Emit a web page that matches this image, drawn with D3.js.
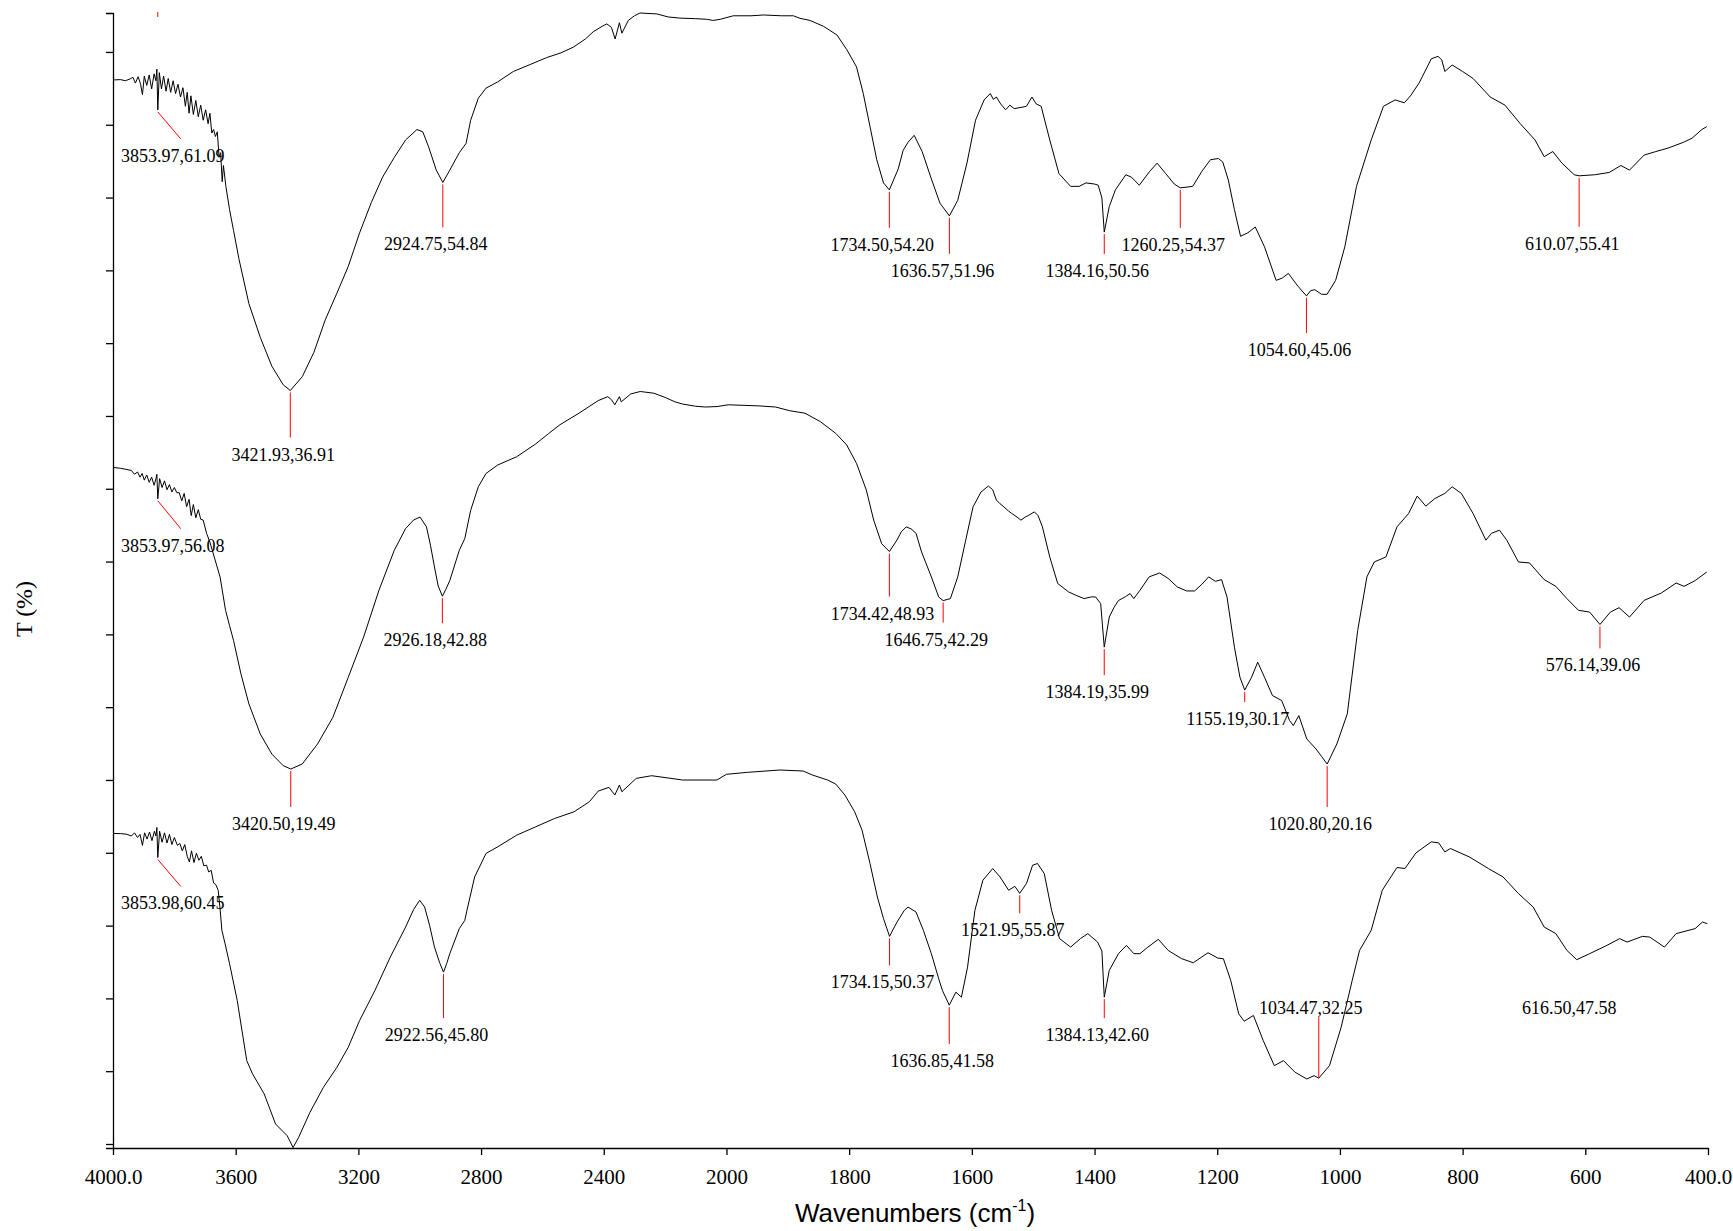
<!DOCTYPE html>
<html><head><meta charset="utf-8">
<script src="https://cdn.jsdelivr.net/npm/d3@7"></script>
<style>body{margin:0;background:#fff}</style>
</head><body>
<svg id="chart" width="1733" height="1231"></svg>
<script>
// ---------- DATA ----------
const wnTicks = [4000,3600,3200,2800,2400,2000,1800,1600,1400,1200,1000,800,600,400];
const wnTickLabels = ["4000.0","3600","3200","2800","2400","2000","1800","1600","1400","1200","1000","800","600","400.0"];

// spectrum 1 (top): [wavenumber, T%]
const spectrumA = [[4000,63.67],[3975,63.7],[3960,63.6],[3945,63.75],[3935,63.9],[3927,63.4],[3918,63.95],[3910,63.3],[3904,62.4],[3898,64.0],[3890,63.2],[3882,64.1],[3874,62.9],[3866,64.2],[3860,63.6],[3857,64.6],[3854,61.09],[3849,64.3],[3842,62.9],[3835,64.0],[3827,62.7],[3820,63.8],[3812,62.6],[3804,63.6],[3796,62.5],[3788,63.3],[3780,62.2],[3772,63.0],[3764,61.4],[3758,62.6],[3752,60.8],[3746,62.3],[3738,60.7],[3730,61.9],[3722,60.5],[3714,61.5],[3706,60.2],[3698,61.1],[3690,59.9],[3684,60.8],[3678,59.1],[3672,59.4],[3666,58.8],[3660,59.2],[3654,57.0],[3649,57.4],[3644,54.9],[3640,56.3],[3632,54.5],[3620,52.5],[3607,50.7],[3589,48.2],[3557,44.4],[3520,41.5],[3482,39.0],[3445,37.4],[3421.93,36.91],[3383,38.1],[3345,40.2],[3308,43.0],[3270,45.3],[3233,47.6],[3196,50.5],[3158,53.1],[3121,55.3],[3083,57.0],[3046,58.5],[3009,59.4],[2990,59.2],[2971,57.9],[2946,55.9],[2924.75,54.84],[2902,55.9],[2871,57.4],[2849,58.2],[2834,60.2],[2809,62.1],[2784,62.96],[2746,63.5],[2695,64.4],[2640,65.0],[2586,65.6],[2540,66.0],[2499,66.5],[2460,67.2],[2434,67.83],[2405,68.3],[2390,68.5],[2375,68.2],[2363,67.2],[2349,68.6],[2341,67.7],[2320,68.8],[2300,69.2],[2282,69.44],[2227,69.36],[2190,69.1],[2152,69.0],[2100,68.95],[2065,68.9],[2043,68.8],[2020,68.9],[1989,69.2],[1960,69.2],[1940,69.27],[1910,69.2],[1891,69.2],[1880,68.98],[1864,68.8],[1842,68.3],[1820,67.55],[1804,66.3],[1788,64.8],[1777,62.5],[1766,59.65],[1755,56.8],[1744,54.8],[1734.5,54.2],[1720,56.0],[1712,57.6],[1704,58.3],[1694,58.9],[1681,57.5],[1667,55.3],[1652,53.05],[1636.57,51.96],[1623,53.3],[1608,56.5],[1594,60.2],[1580,61.95],[1570,62.5],[1565,62.0],[1560,62.2],[1553,61.6],[1545,61.1],[1538,61.5],[1531,61.2],[1520,61.3],[1511,61.4],[1502,62.2],[1495,61.6],[1487,61.4],[1473,58.5],[1458,55.6],[1439,54.5],[1425,54.5],[1414,54.8],[1400,54.7],[1394,54.6],[1388,53.5],[1384.16,50.56],[1376,52.76],[1366,54.2],[1349,55.5],[1340,55.3],[1327,54.6],[1310,55.8],[1298,56.5],[1284,55.6],[1270,54.7],[1260.25,54.37],[1240,54.5],[1225,55.8],[1211,56.8],[1198,56.9],[1191,56.6],[1182,55.06],[1172,52.5],[1162,50.2],[1150,50.5],[1138,51.0],[1123,49.3],[1104,46.4],[1094,46.6],[1084,47.0],[1070,46.0],[1054.6,45.06],[1048,45.5],[1041,45.6],[1030,45.2],[1021,45.2],[1007,46.4],[992,49.3],[973,54.5],[949,58.5],[929,61.4],[910,61.95],[895,61.7],[885,62.3],[871,63.4],[851,65.5],[840,65.7],[834,65.4],[829,64.4],[817,64.96],[800,64.4],[783,63.8],[755,62.2],[731,61.5],[706,59.9],[682,58.5],[667,57.06],[653,57.5],[638,56.5],[618,55.5],[610.07,55.41],[585,55.5],[561,55.7],[542,56.3],[528,55.9],[504,57.2],[485,57.5],[465,57.8],[440,58.3],[426,58.65],[410,59.4],[402,59.65]];

// spectrum 2 (middle)
const spectrumB = [[4000,60.33],[3975,60.2],[3957,60.06],[3940,59.9],[3930,59.4],[3920,59.7],[3912,59.0],[3905,59.5],[3898,58.6],[3890,59.3],[3882,58.3],[3874,59.0],[3866,57.9],[3860,58.8],[3857,59.4],[3854,56.08],[3848,58.8],[3840,57.6],[3832,58.5],[3824,57.3],[3816,58.0],[3808,57.0],[3800,57.6],[3792,56.9],[3784,56.9],[3776,55.8],[3768,56.8],[3760,55.0],[3752,56.0],[3745,53.8],[3738,55.3],[3730,53.5],[3722,54.6],[3714,53.3],[3706,53.2],[3695,51.4],[3684,50.2],[3670,48.2],[3651,45.5],[3633,40.97],[3620,38.9],[3607,36.9],[3583,32.38],[3557,28.31],[3520,24.24],[3482,21.5],[3445,19.94],[3420.5,19.49],[3383,20.17],[3333,22.88],[3283,26.5],[3233,31.9],[3183,37.35],[3133,43.68],[3083,49.1],[3046,52.05],[3020,53.2],[2999,53.6],[2978,52.27],[2965,49.8],[2952,46.85],[2940,44.3],[2926.18,42.88],[2915,43.8],[2902,45.0],[2871,49.1],[2853,50.7],[2834,54.5],[2809,57.7],[2784,59.5],[2746,60.64],[2684,61.77],[2622,63.5],[2580,64.9],[2543,66.1],[2481,67.66],[2418,69.37],[2387,69.9],[2375,69.5],[2364,68.8],[2349,69.9],[2343,69.2],[2312,70.27],[2281,70.6],[2237,70.37],[2200,69.8],[2168,69.2],[2143,68.9],[2100,68.6],[2069,68.5],[2031,68.56],[1997,68.8],[1947,68.65],[1920,68.5],[1897,68.0],[1872,67.66],[1847,66.52],[1822,64.94],[1804,63.36],[1788,60.87],[1772,57.25],[1760,53.18],[1747,50.0],[1734.42,48.93],[1722,50.5],[1715,51.6],[1707,52.27],[1699,52.0],[1691,51.4],[1682,48.88],[1666,45.5],[1654,42.77],[1646.75,42.29],[1635,42.56],[1623,45.5],[1610,50.47],[1598,54.99],[1585,57.0],[1573,57.8],[1566,57.3],[1560,55.9],[1554,55.4],[1548,54.99],[1540,54.4],[1535,54.09],[1528,53.7],[1520,53.18],[1513,53.6],[1507,53.86],[1498,54.3],[1492,53.8],[1485,52.27],[1473,48.2],[1460,44.6],[1442,43.45],[1430,43.0],[1417,42.56],[1405,42.8],[1398,42.77],[1390,41.88],[1384.19,35.99],[1376,40.06],[1368,41.4],[1361,42.3],[1350,42.8],[1342,43.24],[1336,42.56],[1326,43.68],[1311,45.5],[1294,46.03],[1280,45.3],[1265,44.13],[1250,43.6],[1237,43.59],[1225,44.5],[1214,45.5],[1203,44.9],[1193,45.13],[1184,42.77],[1172,35.99],[1163,31.92],[1155.19,30.17],[1144,31.92],[1134,33.95],[1123,31.92],[1110,29.44],[1095,28.76],[1082,26.04],[1076,25.37],[1067,26.72],[1054,23.56],[1039,22.2],[1030,21.2],[1020.8,20.16],[1005,22.88],[988,26.95],[971,38.26],[956,45.5],[944,47.52],[925,48.2],[907,52.27],[888,54.09],[874,56.44],[860,55.08],[845,56.12],[829,56.8],[817,57.7],[802,56.8],[783,54.09],[762,50.47],[753,51.4],[740,51.82],[728,50.47],[709,47.52],[691,47.39],[667,45.13],[648,44.22],[630,42.56],[611,40.97],[593,40.74],[576.14,39.06],[559,40.74],[545,41.33],[528,40.06],[504,42.33],[476,43.32],[452,44.67],[439,44.22],[421,45.0],[402,46.16]];

// spectrum 3 (bottom)
const spectrumC = [[4000,63.52],[3975,63.5],[3957,63.43],[3940,63.2],[3930,63.6],[3920,63.0],[3912,63.4],[3904,62.0],[3897,63.6],[3889,62.8],[3881,63.7],[3873,62.6],[3865,63.8],[3860,63.2],[3857,64.29],[3854,60.45],[3848,63.8],[3840,62.4],[3832,63.6],[3824,62.3],[3816,63.4],[3808,62.1],[3800,63.0],[3790,62.0],[3782,62.24],[3774,61.3],[3766,62.1],[3758,60.6],[3751,59.88],[3744,61.3],[3736,59.8],[3728,61.0],[3720,60.1],[3712,60.6],[3704,59.4],[3695,59.46],[3688,58.6],[3680,58.82],[3672,57.2],[3665,57.0],[3657,56.26],[3650,53.5],[3645,51.14],[3635,49.5],[3620,46.88],[3595,42.18],[3564,34.49],[3545,32.79],[3507,30.23],[3470,26.39],[3432,24.89],[3413,23.39],[3395,24.67],[3358,27.87],[3314,31.08],[3270,33.64],[3233,36.2],[3196,39.62],[3146,43.46],[3096,47.72],[3046,51.56],[3020,53.8],[3000,54.98],[2984,54.12],[2968,51.8],[2952,49.0],[2935,47.0],[2922.56,45.8],[2912,46.9],[2902,48.16],[2871,51.36],[2853,52.42],[2846,53.7],[2821,57.96],[2784,60.96],[2746,61.81],[2684,63.3],[2622,64.37],[2560,65.44],[2497,66.29],[2447,67.57],[2418,68.94],[2383,69.41],[2364,68.43],[2349,69.71],[2341,68.85],[2294,70.56],[2244,70.9],[2181,70.56],[2143,70.35],[2031,70.35],[2000,71.08],[1966,71.33],[1913,71.63],[1875,71.5],[1860,70.99],[1835,70.35],[1822,69.84],[1807,68.43],[1791,66.29],[1779,63.94],[1766,59.68],[1754,55.4],[1744,52.64],[1734.15,50.37],[1722,52.2],[1710,53.7],[1704,54.12],[1691,53.48],[1679,51.14],[1666,48.16],[1654,44.95],[1648,43.46],[1636.85,41.58],[1626,43.24],[1617,42.6],[1607,46.44],[1595,53.7],[1582,57.54],[1566,59.04],[1554,57.96],[1540,56.26],[1530,56.77],[1521.95,55.87],[1511,57.12],[1501,59.46],[1493,59.68],[1482,58.4],[1470,53.7],[1457,50.08],[1439,49.0],[1423,50.08],[1411,50.72],[1395,49.64],[1388,48.5],[1384.13,42.6],[1376,46.02],[1361,48.16],[1348,49.22],[1336,48.16],[1326,48.16],[1313,49.0],[1296,49.99],[1280,48.58],[1258,47.52],[1239,47.0],[1215,48.28],[1199,47.59],[1190,47.52],[1178,44.74],[1165,40.47],[1156,39.53],[1141,40.26],[1125,37.05],[1107,33.85],[1092,34.49],[1073,33.0],[1054,32.15],[1042,32.57],[1034.47,32.25],[1017,33.85],[998,38.76],[980,44.74],[968,48.58],[949,51.14],[931,56.26],[907,59.17],[894,59.04],[876,61.04],[851,62.45],[839,62.32],[829,61.16],[820,61.6],[789,60.52],[758,59.04],[734,57.96],[709,55.84],[685,54.12],[667,51.56],[648,50.72],[630,48.58],[614,47.39],[593,48.16],[568,49.09],[544,50.08],[532,49.64],[507,50.37],[495,50.28],[471,49.0],[452,50.72],[421,51.36],[409,52.2],[401,51.99]];

// peak labels [wavenumber, T%]
const peaksA = [[3853.97,61.09],[3421.93,36.91],[2924.75,54.84],[1734.50,54.20],[1636.57,51.96],[1384.16,50.56],[1260.25,54.37],[1054.60,45.06],[610.07,55.41]];
const peaksB = [[3853.97,56.08],[3420.50,19.49],[2926.18,42.88],[1734.42,48.93],[1646.75,42.29],[1384.19,35.99],[1155.19,30.17],[1020.80,20.16],[576.14,39.06]];
const peaksC = [[3853.98,60.45],[2922.56,45.80],[1734.15,50.37],[1636.85,41.58],[1521.95,55.87],[1384.13,42.60],[1034.47,32.25],[616.50,47.58]];

// label layout (pixels): [marker dx, marker drop, label dx, label dy]
const layoutA = [[23,29,15,23],[0,47,-7,23],[0,45,-7,23],[0,38,-7,23],[0,38,-7,23],[0,22,-7,23],[0,40,-7,23],[0,37,-7,23],[0,51,-7,23]];
const layoutB = [[23,30,15,23],[0,38,-7,23],[0,27,-7,23],[0,45,-7,23],[0,22,-7,23],[0,28,-7,23],[0,12,-7,23],[0,43,-7,23],[0,24,-7,23]];
const layoutC = [[23,29,15,23],[0,46,-7,23],[0,29,-7,23],[0,39,-7,23],[0,20,-7,23],[0,21,-7,23],[0,-61,-8,-3],[0,0,-6,56]];

// ---------- DRAW ----------
const svg = d3.select("#chart");
svg.append("rect").attr("width",1733).attr("height",1231).attr("fill","#fff");
const L = 113, R = 1708, TOP = 13, BOT = 1148;
const u = (R - L) / 13;
const x = d3.scaleLinear().domain([4000, 2000, 400]).range([L, L + 5*u, R]);
const serif = "'Liberation Serif','Times New Roman',serif";
const sans = "'Liberation Sans',Arial,sans-serif";

// axes
const yAxisScale = d3.scaleLinear().domain([-0.055, 15.535]).range([BOT, TOP]);
const gy = svg.append("g").attr("transform", `translate(${L},0)`)
  .call(d3.axisLeft(yAxisScale).tickValues(d3.range(0,16)).tickFormat("").tickSize(7).tickSizeOuter(7));
gy.selectAll("path,line").attr("stroke","#000").attr("stroke-width",1.3);

const gx = svg.append("g").attr("transform", `translate(0,${BOT})`)
  .call(d3.axisBottom(x).tickValues(wnTicks).tickFormat((d,i)=>wnTickLabels[i]).tickSize(7).tickSizeOuter(0).tickPadding(14));
gx.selectAll("path,line").attr("stroke","#000").attr("stroke-width",1.3);
gx.selectAll("text").attr("font-family", serif).attr("font-size", 21).attr("fill","#000");

// axis titles
const xt = svg.append("text").attr("x", 915).attr("y", 1222).attr("text-anchor","middle")
  .attr("font-family", sans).attr("font-size", 26).attr("fill","#000");
xt.append("tspan").text("Wavenumbers (cm");
xt.append("tspan").attr("font-size", 16).attr("dy", -11).text("-1");
xt.append("tspan").attr("dy", 11).text(")");

svg.append("text").attr("transform","translate(32,609) rotate(-90)").attr("text-anchor","middle")
  .attr("font-family", serif).attr("font-size", 24).attr("fill","#000").text("T (%)");

// spectra
const spectra = [spectrumA, spectrumB, spectrumC];
const peaks = [peaksA, peaksB, peaksC];
const layouts = [layoutA, layoutB, layoutC];
const bandH = 377.5, bandStep = 378.5;

spectra.forEach((s, i) => {
  const top = TOP + i * bandStep;
  const y = d3.scaleLinear().domain(d3.extent(s, d => d[1])).range([top + bandH, top]);
  svg.append("path").datum(s)
    .attr("d", d3.line().x(d => x(d[0])).y(d => y(d[1])))
    .attr("fill","none").attr("stroke","#000").attr("stroke-width",1).attr("stroke-linejoin","round");

  const g = svg.append("g");
  peaks[i].forEach((p, j) => {
    const [mdx, drop, ldx, ldy] = layouts[i][j];
    const px = x(p[0]), py = y(p[1]);
    if (drop !== 0) {
      const start = drop > 0 ? py + 2 : py - 1;
      g.append("line").attr("x1", px).attr("y1", start).attr("x2", px + mdx).attr("y2", py + drop)
        .attr("stroke","#ff0000").attr("stroke-width",1);
    }
    g.append("text").attr("x", px + ldx).attr("y", py + drop + ldy).attr("text-anchor","middle")
      .attr("font-family", serif).attr("font-size", 18).attr("fill","#000")
      .text(p[0].toFixed(2) + "," + p[1].toFixed(2));
  });
});

// small stray red marker at the top edge
svg.append("line").attr("x1", x(peaksA[0][0])).attr("x2", x(peaksA[0][0])).attr("y1", TOP - 1).attr("y2", TOP + 4)
  .attr("stroke","#ff0000").attr("stroke-width",1);
</script>
</body></html>
